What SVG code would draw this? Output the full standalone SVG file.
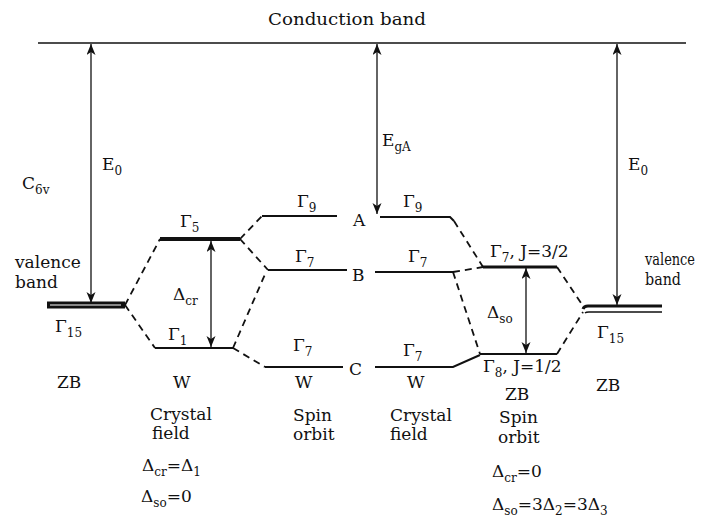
<svg xmlns="http://www.w3.org/2000/svg" width="712" height="526" viewBox="0 0 712 526">
<defs>
<style>
text{font-family:"DejaVu Serif","Liberation Serif",serif;font-size:17px;fill:#111}
.s{font-size:12px}
.sm{font-size:16px}
.lv{stroke:#111;stroke-width:2;fill:none}
.thick{stroke:#111;stroke-width:4;fill:none}
.dash{stroke:#111;stroke-width:1.8;fill:none;stroke-dasharray:7 5}
.arr{stroke:#111;stroke-width:1.3;fill:none;marker-start:url(#ah);marker-end:url(#ah)}
</style>
<marker id="ah" markerUnits="userSpaceOnUse" markerWidth="12" markerHeight="10" refX="11" refY="4.5" orient="auto-start-reverse">
<path d="M0,0 L11,4.5 L0,9 L3,4.5 z" fill="#111"/>
</marker>
</defs>
<rect width="712" height="526" fill="#fff"/>

<g id="conduction-band">
<line x1="38" y1="43" x2="686" y2="43" stroke="#111" stroke-width="1.6"/>
<text x="268" y="25" textLength="158" lengthAdjust="spacingAndGlyphs">Conduction band</text>
</g>

<g id="zb-left">
<line x1="47" y1="305" x2="125" y2="305" stroke="#111" stroke-width="7"/>
<line x1="50" y1="305" x2="121" y2="305" stroke="#fff" stroke-width="1.2"/>
<text x="15" y="268">valence</text>
<text x="15" y="288">band</text>
<text x="55" y="332">Γ<tspan class="s" dy="5">15</tspan></text>
<text x="57" y="388">ZB</text>
<text x="22" y="189">C<tspan class="s" dy="5">6v</tspan></text>
</g>

<g id="w-gamma5">
<line x1="160" y1="239" x2="240" y2="239" class="thick"/>
<text x="180" y="227">Γ<tspan class="s" dy="5">5</tspan></text>
</g>
<g id="w-gamma1">
<line x1="155" y1="348" x2="233" y2="348" class="lv"/>
<text x="168" y="340">Γ<tspan class="s" dy="5">1</tspan></text>
<text x="173" y="388">W</text>
</g>

<g id="w-gamma9">
<line x1="262" y1="216" x2="337" y2="216" class="lv"/>
<text x="297" y="207">Γ<tspan class="s" dy="5">9</tspan></text>
</g>
<g id="w-gamma7-b">
<line x1="268" y1="270" x2="347" y2="270" class="lv"/>
<text x="295" y="262">Γ<tspan class="s" dy="5">7</tspan></text>
</g>
<g id="w-gamma7-c">
<line x1="265" y1="367" x2="343" y2="367" class="lv"/>
<text x="293" y="351">Γ<tspan class="s" dy="5">7</tspan></text>
<text x="295" y="388">W</text>
</g>

<g id="label-A"><text x="353" y="226">A</text></g>
<g id="label-B"><text x="352" y="281">B</text></g>
<g id="label-C"><text x="349" y="375">C</text></g>

<g id="cf-gamma9">
<path d="M380,217 L450,217 L454,221" class="lv"/>
<text x="403" y="207">Γ<tspan class="s" dy="5">9</tspan></text>
</g>
<g id="cf-gamma7-b">
<line x1="375" y1="272" x2="453" y2="272" class="lv"/>
<text x="408" y="262">Γ<tspan class="s" dy="5">7</tspan></text>
</g>
<g id="cf-gamma7-c">
<path d="M375,367 L453,367 L480,355" class="lv"/>
<text x="403" y="356">Γ<tspan class="s" dy="5">7</tspan></text>
<text x="407" y="388">W</text>
</g>

<g id="zb-gamma7">
<line x1="483" y1="267" x2="557" y2="267" stroke="#111" stroke-width="3"/>
<text x="490" y="257">Γ<tspan class="s" dy="5">7</tspan><tspan dy="-5">, J=3/2</tspan></text>
</g>
<g id="zb-gamma8">
<line x1="480" y1="354" x2="557" y2="354" class="lv"/>
<text x="483" y="372">Γ<tspan class="s" dy="5">8</tspan><tspan dy="-5">, J=1/2</tspan></text>
<text x="505" y="400">ZB</text>
</g>

<g id="zb-right">
<path d="M583,309 Q584,306 588,306 L662,306" stroke="#111" stroke-width="3" fill="none"/>
<path d="M585,313 Q586,312 589,312 L662,312" stroke="#111" stroke-width="1.4" fill="none"/>
<text x="645" y="265" class="sm" textLength="50" lengthAdjust="spacingAndGlyphs">valence</text>
<text x="645" y="285" class="sm" textLength="36" lengthAdjust="spacingAndGlyphs">band</text>
<text x="597" y="338">Γ<tspan class="s" dy="5">15</tspan></text>
<text x="596" y="391">ZB</text>
</g>

<g id="connectors">
<line x1="91" y1="44" x2="91" y2="303" class="arr"/>
<line x1="377" y1="44" x2="377" y2="214" class="arr"/>
<line x1="617" y1="44" x2="617" y2="305" class="arr"/>
<line x1="211" y1="241" x2="211" y2="347" class="arr"/>
<line x1="526" y1="268" x2="526" y2="353" class="arr"/>
<line x1="125" y1="305" x2="160" y2="239" class="dash"/>
<line x1="125" y1="305" x2="155" y2="348" class="dash"/>
<line x1="240" y1="239" x2="262" y2="216" class="dash"/>
<line x1="240" y1="239" x2="268" y2="270" class="dash"/>
<line x1="233" y1="348" x2="266" y2="272" class="dash"/>
<line x1="233" y1="348" x2="265" y2="367" class="dash"/>
<line x1="454" y1="221" x2="483" y2="267" class="dash"/>
<line x1="453" y1="272" x2="483" y2="267" class="dash"/>
<line x1="453" y1="272" x2="480" y2="354" class="dash"/>
<line x1="557" y1="267" x2="583" y2="306" class="dash"/>
<line x1="557" y1="354" x2="583" y2="312" class="dash"/>
</g>

<g id="arrow-labels">
<text x="102" y="170">E<tspan class="s" dy="5">0</tspan></text>
<text x="382" y="146">E<tspan class="s" dy="5">gA</tspan></text>
<text x="628" y="170">E<tspan class="s" dy="5">0</tspan></text>
<text x="173" y="300">Δ<tspan class="s" dy="5">cr</tspan></text>
<text x="487" y="318">Δ<tspan class="s" dy="5">so</tspan></text>
</g>

<g id="captions">
<text x="150" y="420">Crystal</text>
<text x="152" y="439">field</text>
<text x="142" y="471">Δ<tspan class="s" dy="5">cr</tspan><tspan dy="-5">=Δ</tspan><tspan class="s" dy="5">1</tspan></text>
<text x="141" y="502">Δ<tspan class="s" dy="5">so</tspan><tspan dy="-5">=0</tspan></text>
<text x="293" y="421">Spin</text>
<text x="293" y="440">orbit</text>
<text x="390" y="421">Crystal</text>
<text x="390" y="440">field</text>
<text x="499" y="423">Spin</text>
<text x="498" y="443">orbit</text>
<text x="492" y="477">Δ<tspan class="s" dy="5">cr</tspan><tspan dy="-5">=0</tspan></text>
<text x="492" y="510">Δ<tspan class="s" dy="5">so</tspan><tspan dy="-5">=3Δ</tspan><tspan class="s" dy="5">2</tspan><tspan dy="-5">=3Δ</tspan><tspan class="s" dy="5">3</tspan></text>
</g>
</svg>
